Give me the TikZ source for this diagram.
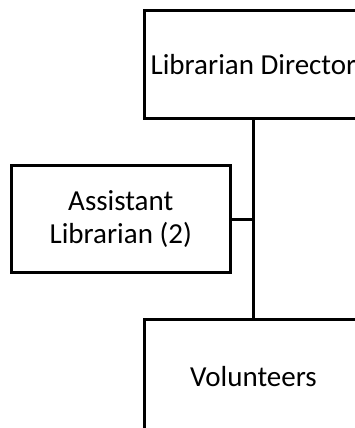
\documentclass[tikz,border=0pt]{standalone}
\usepackage{fontspec}
\setmainfont{Carlito}
\begin{document}
\begin{tikzpicture}[x=1pt,y=1pt,
  orgbox/.style={draw=black, line width=3pt, fill=white, inner sep=0pt,
    align=center, font=\fontsize{29}{33}\selectfont},
  link/.style={draw=black, line width=3pt}]
\useasboundingbox (0,0) rectangle (355,428);
\clip (0,0) rectangle (355,428);
% positions: top box, side box, bottom box
\node[orgbox, minimum width=219pt, minimum height=108.5pt] (dir) at (253.5,363.25) {Librarian Director};
\node[orgbox, minimum width=218.5pt, minimum height=107pt] (asst) at (120.75,208.5) {Assistant\\Librarian (2)};
\node[orgbox, minimum width=219pt, minimum height=116pt] (vol) at (253.5,50) {\raisebox{4pt}{Volunteers}};
% connectors
\draw[link] (dir.south) -- (vol.north);
\coordinate (j) at (dir.south |- asst.east);
\draw[link] (asst.east) -- (j);
\end{tikzpicture}
\end{document}
